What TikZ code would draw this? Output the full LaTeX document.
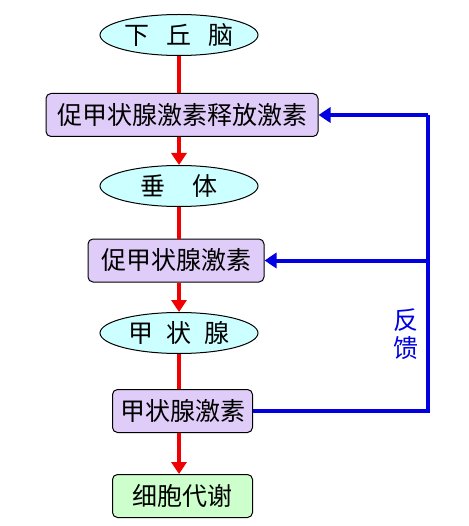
\documentclass[tikz,border=0pt]{standalone}
\usepackage{fontspec}
\newfontfamily\cjk{Noto Sans CJK SC}
\usetikzlibrary{shapes.geometric,arrows.meta}
\definecolor{ellfill}{HTML}{CCFFFF}
\definecolor{boxfill}{HTML}{E0CCF8}
\definecolor{grnfill}{HTML}{CCFFCC}
\definecolor{fbblue}{HTML}{0000E0}
\definecolor{arred}{HTML}{F00000}
\tikzset{
  organ/.style={ellipse, draw=black, line width=1pt, fill=ellfill, minimum width=158pt, minimum height=41pt, inner sep=0pt, font=\cjk\fontsize{25}{27}\selectfont},
  hormone/.style={rectangle, rounded corners=5pt, draw=black, line width=1pt, fill=boxfill, minimum height=43pt, inner sep=0pt, font=\cjk\fontsize{25}{27}\selectfont},
  metab/.style={hormone, fill=grnfill},
  redline/.style={draw=arred, line width=4pt},
  redarrow/.style={redline, -{Triangle[width=15pt,length=12pt]}},
  blueline/.style={draw=fbblue, line width=4pt},
  bluearrow/.style={blueline, -{Triangle[width=15pt,length=12pt]}},
}
\begin{document}
\begin{tikzpicture}[x=1pt,y=-1pt]
\useasboundingbox (0,0) rectangle (468,526);
\node[organ] (hyp) at (179,35) {下\hspace{17pt}丘\hspace{17pt}脑};
\node[hormone, minimum width=272pt] (trh) at (182,115) {促甲状腺激素释放激素};
\node[organ] (pit) at (179,186) {垂\hspace{27pt}体};
\node[hormone, minimum width=176pt] (tsh) at (176,260.5) {促甲状腺激素};
\node[organ] (thy) at (179,333) {甲\hspace{13pt}状\hspace{13pt}腺};
\node[hormone, minimum width=140pt] (th) at (182.5,411) {甲状腺激素};
\node[metab, minimum width=140pt] (cell) at (182.5,496) {细胞代谢};
\coordinate (c1) at (428,411);
\coordinate (c2) at (428,115);
\coordinate (c3) at (428,260.5);
\node[text=fbblue, font=\cjk\fontsize{25}{27}\selectfont, align=center, inner sep=0pt] (fb) at (406,334) {反\\[1pt]馈};
% red connectors
\draw[redline] (hyp.south -| 179,0) -- (trh.north -| 179,0);
\draw[redarrow] (trh.south -| 179,0) -- (pit.north -| 179,0);
\draw[redline] (pit.south -| 179,0) -- (tsh.north -| 179,0);
\draw[redarrow] (tsh.south -| 179,0) -- (thy.north -| 179,0);
\draw[redline] (thy.south -| 179,0) -- (th.north -| 179,0);
\draw[redarrow] (th.south -| 179,0) -- (cell.north -| 179,0);
% blue feedback
\draw[blueline, line join=miter] (th.east |- c1) -- (c1) -- (c2);
\draw[bluearrow] (c2) -- (trh.east);
\draw[bluearrow] (c3) -- (tsh.east);
\end{tikzpicture}
\end{document}
